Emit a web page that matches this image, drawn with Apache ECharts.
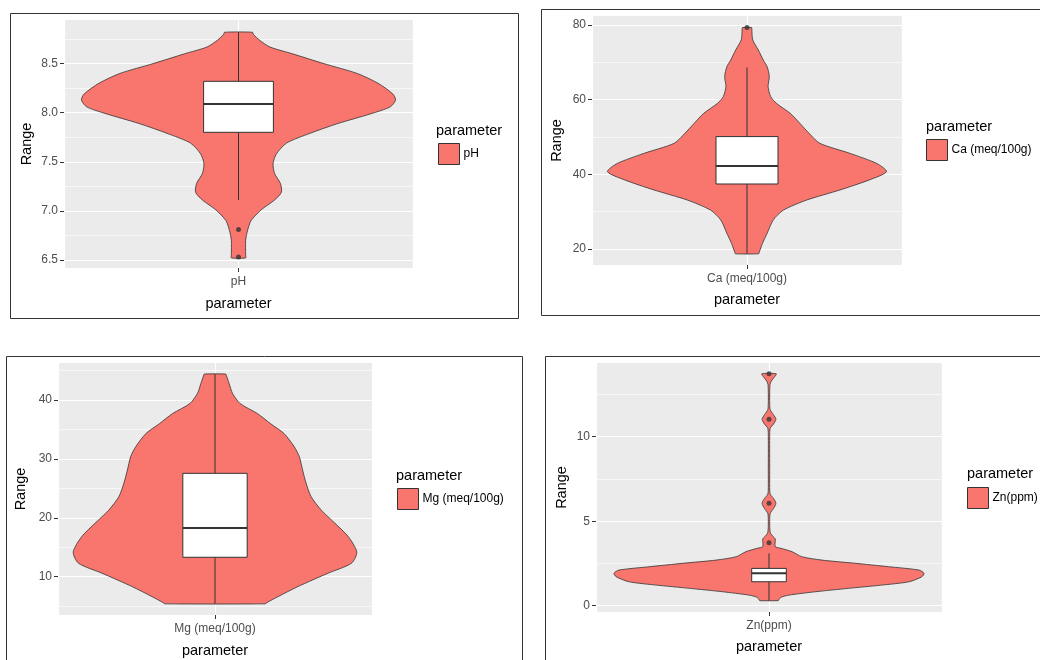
<!DOCTYPE html>
<html>
<head>
<meta charset="utf-8">
<script src="https://cdn.jsdelivr.net/npm/echarts@6/dist/echarts.min.js"></script>
<style>
  html, body { margin: 0; padding: 0; background: #fff; }
  #chart { width: 1040px; height: 660px; }
</style>
</head>
<body>
<div id="chart"></div>
<script>
const parameters = ['pH', 'Ca (meq/100g)', 'Mg (meq/100g)', 'Zn(ppm)']

// violin outlines: levels top to bottom, half widths as share of half the panel
const phLevels = [8.82, 8.80, 8.74, 8.67, 8.60, 8.50, 8.40, 8.30, 8.19, 8.13, 8.06, 7.99, 7.89, 7.79, 7.69, 7.58, 7.48, 7.38, 7.28, 7.19, 7.11, 7.01, 6.90, 6.80, 6.70, 6.55, 6.52]
const phWidths = [0.08, 0.085, 0.12, 0.18, 0.31, 0.49, 0.68, 0.80, 0.885, 0.90, 0.87, 0.76, 0.57, 0.41, 0.275, 0.217, 0.198, 0.207, 0.24, 0.246, 0.207, 0.13, 0.072, 0.052, 0.041, 0.041, 0.041]
const phBox = [7.11, 7.80, 8.09, 8.32, 8.82] // whisker low, q1, median, q3, whisker high
const phOutliers = [6.81, 6.53]
const phTicks = [6.5, 7.0, 7.5, 8.0, 8.5]

const caLevels = [79.3, 79.0, 76.0, 73.3, 70.6, 68.8, 66.2, 63.5, 60.8, 59.0, 56.3, 53.7, 51.0, 48.3, 45.6, 42.9, 40.7, 38.5, 35.8, 33.1, 30.4, 27.8, 24.2, 21.5, 19.0, 18.7]
const caWidths = [0.03, 0.031, 0.037, 0.073, 0.105, 0.13, 0.144, 0.136, 0.153, 0.19, 0.28, 0.34, 0.40, 0.47, 0.665, 0.837, 0.90, 0.79, 0.60, 0.385, 0.235, 0.17, 0.13, 0.10, 0.078, 0.075]
const caBox = [18.7, 37.4, 42.2, 50.1, 68.6]
const caOutliers = [79.3]
const caTicks = [20, 40, 60, 80]

const mgLevels = [44.4, 44.2, 42.8, 41.1, 39.4, 37.7, 36.0, 34.3, 32.1, 30.4, 28.1, 25.9, 23.6, 21.3, 19.1, 16.8, 14.2, 12.3, 10.6, 8.3, 6.6, 5.6, 5.4]
const mgWidths = [0.069, 0.072, 0.09, 0.112, 0.16, 0.27, 0.353, 0.44, 0.504, 0.537, 0.558, 0.58, 0.612, 0.677, 0.763, 0.849, 0.903, 0.87, 0.72, 0.526, 0.40, 0.33, 0.32]
const mgBox = [5.4, 13.3, 18.27, 27.55, 44.4]
const mgOutliers = []
const mgTicks = [10, 20, 30, 40]

const znLevels = [13.72, 13.5, 13.3, 13.1, 12.6, 12.0, 11.6, 11.3, 11.03, 10.75, 10.5, 10.0, 8.0, 7.0, 6.6, 6.35, 6.06, 5.75, 5.47, 5.0, 4.5, 4.28, 4.1, 3.95, 3.5, 3.40, 3.20, 2.90, 2.70, 2.51, 2.31, 2.11, 1.92, 1.72, 1.42, 1.22, 1.03, 0.83, 0.63, 0.50, 0.33, 0.30]
const znWidths = [0.042, 0.029, 0.014, 0.006, 0.004, 0.004, 0.007, 0.026, 0.040, 0.026, 0.007, 0.004, 0.004, 0.004, 0.007, 0.026, 0.040, 0.026, 0.007, 0.004, 0.005, 0.009, 0.023, 0.036, 0.036, 0.068, 0.133, 0.19, 0.306, 0.50, 0.69, 0.867, 0.896, 0.884, 0.81, 0.65, 0.46, 0.27, 0.116, 0.069, 0.055, 0.054]
const znBox = [0.30, 1.42, 1.92, 2.21, 3.10]
const znOutliers = [13.72, 11.03, 6.06, 3.73]
const znTicks = [0, 5, 10]

const FILL = '#F8766D'
const INK = '#333333'
const FONT = '"Liberation Sans", Arial, sans-serif'

const panels = [
  { name: parameters[0], levels: phLevels, widths: phWidths, box: phBox, boxHalf: 0.2, outliers: phOutliers, ticks: phTicks,
    grid: { left: 64, top: 20, width: 349, height: 248 }, yMin: 6.417, yMax: 8.945, split: 5,
    fmt: v => Number(v).toFixed(1), yGap: 30, xGap: 28, legend: { left: 438, top: 143 }, legendTitle: { left: 436, top: 123 } },
  { name: parameters[1], levels: caLevels, widths: caWidths, box: caBox, boxHalf: 0.2, outliers: caOutliers, ticks: caTicks,
    grid: { left: 592, top: 16, width: 310, height: 249 }, yMin: 15.7, yMax: 82.4, split: 3,
    fmt: null, yGap: 28, xGap: 27, legend: { left: 926, top: 139 }, legendTitle: { left: 926, top: 119 } },
  { name: parameters[2], levels: mgLevels, widths: mgWidths, box: mgBox, boxHalf: 0.205, outliers: mgOutliers, ticks: mgTicks,
    grid: { left: 58, top: 363, width: 314, height: 252 }, yMin: 3.5, yMax: 46.28, split: 5,
    fmt: null, yGap: 30, xGap: 28, legend: { left: 397, top: 488 }, legendTitle: { left: 396, top: 468 } },
  { name: parameters[3], levels: znLevels, widths: znWidths, box: znBox, boxHalf: 0.1, outliers: znOutliers, ticks: znTicks,
    grid: { left: 596, top: 363, width: 346, height: 249 }, yMin: -0.37, yMax: 14.36, split: 3,
    fmt: null, yGap: 27, xGap: 27, legend: { left: 967, top: 487 }, legendTitle: { left: 967, top: 466 } }
]

const borders = [
  { x: 10.5, y: 13.5, width: 508, height: 305 },
  { x: 541.5, y: 9.5, width: 520, height: 306 },
  { x: 6.5, y: 356.5, width: 516, height: 320 },
  { x: 545.5, y: 356.5, width: 520, height: 320 }
]

function violinRender(p) {
  return function (params, api) {
    const right = p.levels.map((v, i) => api.coord([p.widths[i], v]))
    const left = p.levels.map((v, i) => api.coord([-p.widths[i], v])).reverse()
    return {
      type: 'polygon',
      shape: { points: right.concat(left), smooth: 0.25 },
      style: { fill: FILL, stroke: INK, lineWidth: 0.8 }
    }
  }
}

function boxRender(p) {
  return function (params, api) {
    const [lo, q1, med, q3, hi] = p.box
    const top = api.coord([0, hi])
    const bottom = api.coord([0, lo])
    const tl = api.coord([-p.boxHalf, q3])
    const br = api.coord([p.boxHalf, q1])
    const ml = api.coord([-p.boxHalf, med])
    const mr = api.coord([p.boxHalf, med])
    return {
      type: 'group',
      children: [
        { type: 'line', shape: { x1: top[0], y1: top[1], x2: bottom[0], y2: bottom[1] }, style: { stroke: INK, lineWidth: 1 } },
        { type: 'rect', shape: { x: tl[0], y: tl[1], width: br[0] - tl[0], height: br[1] - tl[1] }, style: { fill: '#fff', stroke: INK, lineWidth: 1 } },
        { type: 'line', shape: { x1: ml[0], y1: ml[1], x2: mr[0], y2: mr[1] }, style: { stroke: INK, lineWidth: 2 } }
      ]
    }
  }
}

const option = {
  animation: false,
  textStyle: { fontFamily: FONT },
  grid: [], xAxis: [], yAxis: [], series: [], legend: [], title: [],
  graphic: borders.map(b => ({
    type: 'rect', silent: true, z: 100,
    shape: b,
    style: { fill: 'none', stroke: INK, lineWidth: 1 }
  }))
}

panels.forEach((p, i) => {
  option.grid.push({ ...p.grid, show: true, backgroundColor: '#EBEBEB', borderWidth: 0 })

  option.xAxis.push({
    type: 'category', gridIndex: i, data: [p.name], position: 'bottom',
    name: 'parameter', nameLocation: 'middle', nameGap: p.xGap,
    nameTextStyle: { fontSize: 14.5, color: '#000' },
    axisLine: { show: false, onZero: false },
    axisTick: { show: true, alignWithLabel: true, length: 4, lineStyle: { color: INK } },
    axisLabel: { color: '#4D4D4D', fontSize: 12, margin: 8 },
    splitLine: { show: false }
  })
  option.xAxis.push({
    type: 'value', gridIndex: i, min: -1, max: 1, interval: 1, position: 'top',
    axisLine: { show: false, onZero: false }, axisTick: { show: false }, axisLabel: { show: false },
    splitLine: { show: true, lineStyle: { color: '#fff', width: 1.2 } }
  })

  option.yAxis.push({
    type: 'value', gridIndex: i, min: p.yMin, max: p.yMax, splitNumber: p.split, position: 'left',
    name: 'Range', nameLocation: 'middle', nameRotate: 90, nameGap: p.yGap,
    nameTextStyle: { fontSize: 14.5, color: '#000' },
    axisLine: { show: false, onZero: false },
    axisTick: { show: true, length: 4, lineStyle: { color: INK }, customValues: p.ticks },
    axisLabel: { color: '#4D4D4D', fontSize: 12, margin: 6, formatter: p.fmt || undefined, customValues: p.ticks },
    splitLine: { show: true, lineStyle: { color: '#fff', width: 1.2 } },
    minorTick: { show: false, splitNumber: 2 },
    minorSplitLine: { show: true, lineStyle: { color: '#fff', width: 0.6 } }
  })

  option.series.push({
    name: p.name, type: 'custom', coordinateSystem: 'cartesian2d',
    xAxisIndex: 2 * i + 1, yAxisIndex: i,
    itemStyle: { color: FILL },
    renderItem: violinRender(p),
    data: [[0, p.levels[0]]],
    z: 2
  })
  option.series.push({
    name: p.name + ' box', type: 'custom', coordinateSystem: 'cartesian2d',
    xAxisIndex: 2 * i + 1, yAxisIndex: i,
    renderItem: boxRender(p),
    data: [[0, p.box[2]]],
    z: 3
  })
  option.series.push({
    name: p.name + ' outliers', type: 'scatter',
    xAxisIndex: 2 * i + 1, yAxisIndex: i,
    symbolSize: 5,
    itemStyle: { color: INK },
    data: p.outliers.map(v => [0, v]),
    z: 4
  })

  option.legend.push({
    data: [p.name], left: p.legend.left, top: p.legend.top, padding: 0,
    icon: 'rect', itemWidth: 21, itemHeight: 21, selectedMode: false,
    itemStyle: { color: FILL, borderColor: INK, borderWidth: 1 },
    textStyle: { fontSize: 12, color: '#000', padding: [0, 0, 0, -1] }
  })
  option.title.push({
    text: 'parameter', left: p.legendTitle.left, top: p.legendTitle.top, padding: 0,
    textStyle: { fontSize: 14.5, fontWeight: 'normal', color: '#000' }
  })
})

const chart = echarts.init(document.getElementById('chart'))
chart.setOption(option)
</script>
</body>
</html>
